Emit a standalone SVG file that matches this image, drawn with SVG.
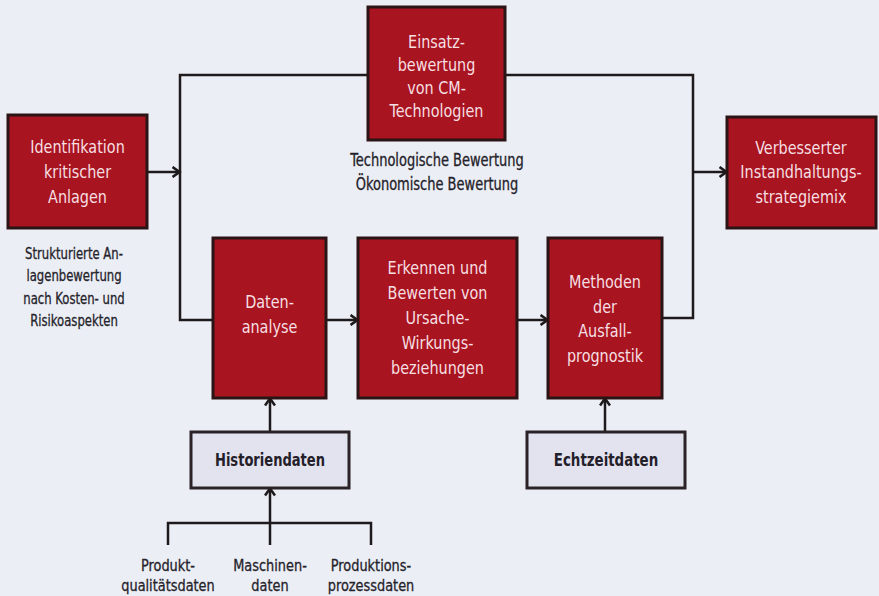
<svg xmlns="http://www.w3.org/2000/svg" width="879" height="596" viewBox="0 0 879 596">
<defs>
<style>
.bg{fill:#eceef5}
.red rect{fill:#a8141f;stroke:#2a1416;stroke-width:3}
.data rect{fill:#e3e3f0;stroke:#2a2226;stroke-width:3}
text{font-family:"DejaVu Sans Condensed","Liberation Sans",sans-serif;text-anchor:middle}
.rt{font-size:18px;fill:#f6dfe2}
.dt{font-size:17.5px;font-weight:bold;fill:#23202a}
.lt{font-size:17px;fill:#24222a;stroke:#24222a;stroke-width:0.3}
.st{font-size:16px;fill:#24222a;stroke:#24222a;stroke-width:0.3}
.bt{font-size:16.5px;fill:#24222a;stroke:#24222a;stroke-width:0.3}
.c path{fill:none;stroke:#1e1a1c;stroke-width:2.5}
</style>
<marker id="ah" viewBox="0 0 10 12" markerWidth="10" markerHeight="12" refX="8.5" refY="6" orient="auto" markerUnits="userSpaceOnUse">
<path d="M1,1 L8,6 L1,11" fill="none" stroke="#1e1a1c" stroke-width="2.6"/>
</marker>
</defs>
<rect class="bg" x="0" y="0" width="879" height="596"/>

<g id="connectors" class="c">
<path d="M368,75 H180 V320 H213"/>
<path d="M147,172 H180" marker-end="url(#ah)"/>
<path d="M505,75 H693 V318 H662"/>
<path d="M693,172 H727" marker-end="url(#ah)"/>
<path d="M326,320 H358" marker-end="url(#ah)"/>
<path d="M517,320 H548" marker-end="url(#ah)"/>
<path d="M270,432 V398" marker-end="url(#ah)"/>
<path d="M605,432 V398" marker-end="url(#ah)"/>
<path d="M168,545 V523 H371 V545"/>
<path d="M270,545 V488" marker-end="url(#ah)"/>
</g>

<g id="einsatz" class="red">
<rect x="368" y="7" width="137" height="133"/>
<g transform="translate(436.5 0) scale(0.89 1)">
<text class="rt" x="0" y="48">Einsatz-</text>
<text class="rt" x="0" y="71">bewertung</text>
<text class="rt" x="0" y="94">von CM-</text>
<text class="rt" x="0" y="117">Technologien</text>
</g>
</g>
<g id="einsatz-label" transform="translate(437 0) scale(0.85 1)">
<text class="lt" x="0" y="166">Technologische Bewertung</text>
<text class="lt" x="0" y="190">Ökonomische Bewertung</text>
</g>

<g id="identifikation" class="red">
<rect x="8" y="115" width="139" height="113"/>
<g transform="translate(77.5 0) scale(0.89 1)">
<text class="rt" x="0" y="153">Identifikation</text>
<text class="rt" x="0" y="178">kritischer</text>
<text class="rt" x="0" y="203">Anlagen</text>
</g>
</g>
<g id="identifikation-label" transform="translate(74 0) scale(0.81 1)">
<text class="st" x="0" y="259">Strukturierte An-</text>
<text class="st" x="0" y="281">lagenbewertung</text>
<text class="st" x="0" y="304">nach Kosten- und</text>
<text class="st" x="0" y="326">Risikoaspekten</text>
</g>

<g id="verbesserter" class="red">
<rect x="727" y="117" width="149" height="111"/>
<g transform="translate(801 0) scale(0.89 1)">
<text class="rt" x="0" y="154">Verbesserter</text>
<text class="rt" x="0" y="178">Instandhaltungs-</text>
<text class="rt" x="0" y="203">strategiemix</text>
</g>
</g>

<g id="datenanalyse" class="red">
<rect x="213" y="238" width="113" height="160"/>
<g transform="translate(269.5 0) scale(0.89 1)">
<text class="rt" x="0" y="308">Daten-</text>
<text class="rt" x="0" y="333">analyse</text>
</g>
</g>

<g id="erkennen" class="red">
<rect x="358" y="238" width="159" height="160"/>
<g transform="translate(437.5 0) scale(0.89 1)">
<text class="rt" x="0" y="274">Erkennen und</text>
<text class="rt" x="0" y="299">Bewerten von</text>
<text class="rt" x="0" y="324">Ursache-</text>
<text class="rt" x="0" y="349">Wirkungs-</text>
<text class="rt" x="0" y="374">beziehungen</text>
</g>
</g>

<g id="methoden" class="red">
<rect x="548" y="238" width="114" height="160"/>
<g transform="translate(605 0) scale(0.89 1)">
<text class="rt" x="0" y="288">Methoden</text>
<text class="rt" x="0" y="313">der</text>
<text class="rt" x="0" y="337">Ausfall-</text>
<text class="rt" x="0" y="362">prognostik</text>
</g>
</g>

<g id="historiendaten" class="data">
<rect x="191" y="432" width="158" height="56"/>
<text class="dt" transform="translate(270 466) scale(0.83 1)" x="0" y="0">Historiendaten</text>
</g>

<g id="echtzeitdaten" class="data">
<rect x="527" y="432" width="158" height="56"/>
<text class="dt" transform="translate(606 466) scale(0.85 1)" x="0" y="0">Echtzeitdaten</text>
</g>

<g id="produktqualitaetsdaten" transform="translate(168 0) scale(0.87 1)">
<text class="bt" x="0" y="571">Produkt-</text>
<text class="bt" x="0" y="591">qualitätsdaten</text>
</g>
<g id="maschinendaten" transform="translate(270 0) scale(0.87 1)">
<text class="bt" x="0" y="571">Maschinen-</text>
<text class="bt" x="0" y="591">daten</text>
</g>
<g id="produktionsprozessdaten" transform="translate(371 0) scale(0.87 1)">
<text class="bt" x="0" y="571">Produktions-</text>
<text class="bt" x="0" y="591">prozessdaten</text>
</g>
</svg>
